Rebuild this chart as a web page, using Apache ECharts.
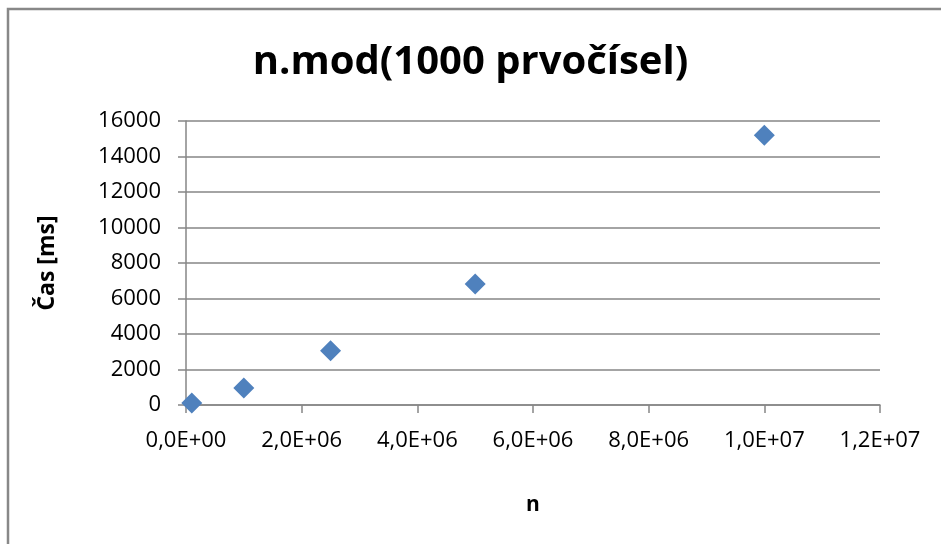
<!DOCTYPE html>
<html>
<head>
<meta charset="utf-8">
<script src="https://cdn.jsdelivr.net/npm/echarts@6/dist/echarts.min.js"></script>
<style>
  html, body { margin: 0; padding: 0; background: #fff; }
  #chart { width: 941px; height: 544px; }
</style>
</head>
<body>
<div id="chart"></div>
<script>
// data
var nValues = [100000, 1000000, 2500000, 5000000, 10000000];
var casValues = [110, 960, 3050, 6820, 15200];

var fontFamily = '"Open Sans", "Noto Sans", sans-serif';
var gridColor = '#868686';

/** 0,0E+00 style labels */
function sciLabel(v) {
  if (v === 0) return '0,0E+00';
  var exp = Math.floor(Math.log10(v));
  var mant = (v / Math.pow(10, exp)).toFixed(1).replace('.', ',');
  return mant + 'E+' + (exp < 10 ? '0' + exp : exp);
}

var points = nValues.map(function (n, i) {
  return [n, casValues[i]];
});

var chart = echarts.init(document.getElementById('chart'));

var option = {
  backgroundColor: '#fff',
  animation: false,
  title: {
    text: 'n.mod(1000 prvočísel)',
    left: 'center',
    top: 38,
    textStyle: {
      fontFamily: fontFamily,
      fontSize: 40,
      fontWeight: 'bold',
      color: '#000'
    }
  },
  graphic: [{
    type: 'rect',
    shape: { x: 8, y: 9, width: 960, height: 560 },
    style: { fill: null, stroke: '#888', lineWidth: 2.5 },
    silent: true
  }],
  grid: {
    left: 186,
    right: 61,
    top: 121,
    bottom: 139
  },
  xAxis: {
    type: 'value',
    min: 0,
    max: 12000000,
    interval: 2000000,
    name: 'n',
    nameLocation: 'middle',
    nameGap: 90,
    nameTextStyle: {
      fontFamily: fontFamily,
      fontSize: 21,
      fontWeight: 'bold',
      color: '#000'
    },
    axisLine: { show: true, lineStyle: { color: gridColor, width: 1.5 } },
    axisTick: { show: true, inside: false, length: 8, lineStyle: { color: gridColor, width: 1.5 } },
    axisLabel: {
      margin: 25,
      fontFamily: fontFamily,
      fontSize: 22,
      color: '#000',
      formatter: sciLabel
    },
    splitLine: { show: false }
  },
  yAxis: {
    type: 'value',
    min: 0,
    max: 16000,
    interval: 2000,
    name: 'Čas [ms]',
    nameLocation: 'middle',
    nameRotate: 90,
    nameGap: 127,
    nameTextStyle: {
      fontFamily: fontFamily,
      fontSize: 23,
      fontWeight: 'bold',
      color: '#000'
    },
    axisLine: { show: true, lineStyle: { color: gridColor, width: 1.5 } },
    axisTick: { show: true, inside: false, length: 8, lineStyle: { color: gridColor, width: 1.5 } },
    axisLabel: {
      margin: 25,
      fontFamily: fontFamily,
      fontSize: 22,
      color: '#000',
      formatter: function (v) { return String(v); }
    },
    splitLine: { show: true, lineStyle: { color: gridColor, width: 1.5 } }
  },
  series: [{
    name: 'n.mod',
    type: 'scatter',
    symbol: 'diamond',
    symbolSize: [21, 21],
    itemStyle: { color: '#4F81BD', opacity: 1 },
    data: points
  }]
};

chart.setOption(option);
</script>
</body>
</html>
